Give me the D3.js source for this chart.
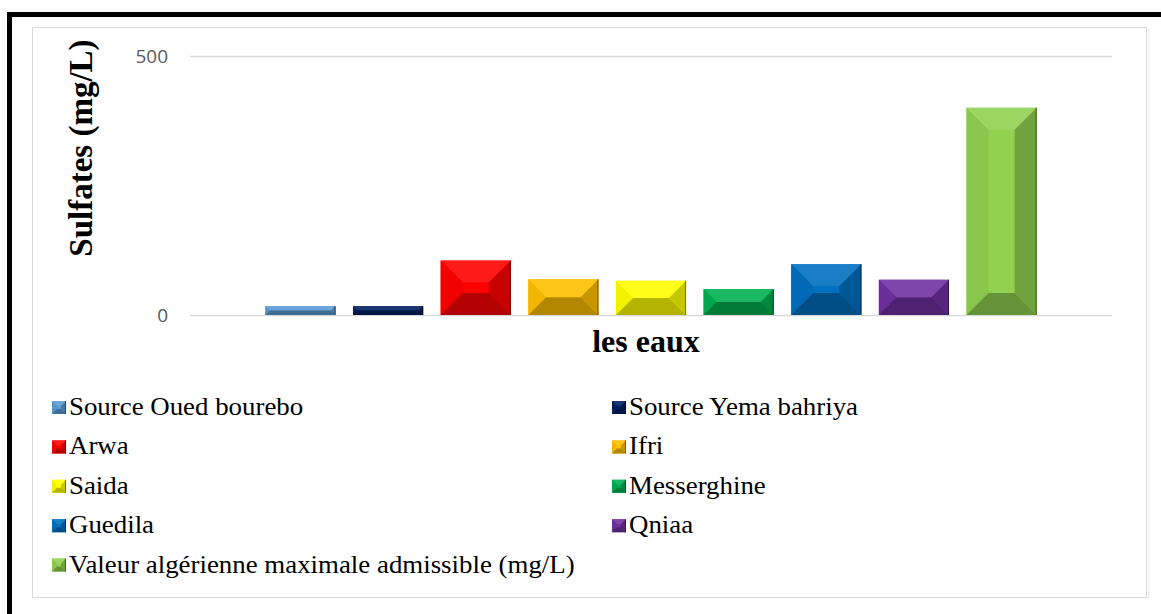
<!DOCTYPE html>
<html lang="fr">
<head>
    <meta charset="utf-8">
    <style>
        body { margin: 0; background: #fff; }
        svg { display: block; }
    </style>
</head>
<body>
    <svg width="1161" height="614"></svg>
    <script src="https://cdn.jsdelivr.net/npm/d3@7"></script>
    <script>
        // Data
        const series = ["Source Oued bourebo", "Source Yema bahriya", "Arwa", "Ifri", "Saida",
                        "Messerghine", "Guedila", "Qniaa", "Valeur algérienne maximale admissible (mg/L)"];
        const values = [17, 17, 105, 69, 66, 50, 98, 68, 400];
        const colors = ["#5B9BD5", "#002060", "#FF0000", "#FFC000", "#FFFF00",
                        "#00B050", "#0070C0", "#7030A0", "#92D050"];
        const yTicks = [0, 500];

        const svg = d3.select("svg");
        const serif = "'Liberation Serif', 'Times New Roman', serif";

        // Frame: thick black top/left, thin grey chart box
        svg.append("rect").attr("x", 7).attr("y", 12).attr("width", 1160).attr("height", 5).attr("fill", "#000");
        svg.append("rect").attr("x", 7).attr("y", 12).attr("width", 5).attr("height", 610).attr("fill", "#000");
        svg.append("rect").attr("x", 32.5).attr("y", 27.5).attr("width", 1114).attr("height", 570)
            .attr("fill", "#fff").attr("stroke", "#d9d9d9").attr("stroke-width", 1);
        svg.append("line").attr("x1", 1148.5).attr("x2", 1148.5).attr("y1", 29).attr("y2", 599)
            .attr("stroke", "#ececec").attr("stroke-width", 1);

        const plot = { left: 190, right: 1112, top: 56, bottom: 315 };

        const x = d3.scaleBand().domain(series).range([plot.left, plot.right])
            .paddingInner(0.2).paddingOuter(0.86);
        const y = d3.scaleLinear().domain([0, 500]).range([plot.bottom, plot.top]);

        /************************************************************
        * Axis / gridlines
        ************************************************************/
        const yAxis = svg.append("g")
            .attr("transform", `translate(${plot.left},0)`)
            .call(d3.axisLeft(y).tickValues(yTicks).tickSize(-(plot.right - plot.left)).tickPadding(22));
        yAxis.select(".domain").remove();
        yAxis.selectAll(".tick line").attr("stroke", "#d9d9d9").attr("stroke-width", 1.5);
        yAxis.selectAll(".tick text")
            .style("font-family", "'Open Sans', 'Noto Sans', sans-serif")
            .style("font-size", "19px").attr("fill", "#595959");

        /************************************************************
        * Bevelled bars
        ************************************************************/
        const mix = (c, t, k) => d3.interpolateRgb(c, t)(k);

        function bevel(g, bx, by, w, h, color, maxB) {
            const b = Math.min(maxB, h / 2, w / 2);
            const faces = [
                { pts: [[bx, by], [bx + w, by], [bx + w - b, by + b], [bx + b, by + b]], fill: mix(color, "#fff", 0.1) },
                { pts: [[bx, by], [bx + b, by + b], [bx + b, by + h - b], [bx, by + h]], fill: mix(color, "#000", 0.05) },
                { pts: [[bx + w, by], [bx + w, by + h], [bx + w - b, by + h - b], [bx + w - b, by + b]], fill: mix(color, "#000", 0.22) },
                { pts: [[bx, by + h], [bx + w, by + h], [bx + w - b, by + h - b], [bx + b, by + h - b]], fill: mix(color, "#000", 0.3) }
            ];
            g.append("rect").attr("x", bx).attr("y", by).attr("width", w).attr("height", h).attr("fill", color);
            g.selectAll(null).data(faces).enter()
                .append("polygon")
                .attr("points", d => d.pts.map(p => p.join(",")).join(" "))
                .attr("fill", d => d.fill);
            g.append("line").attr("x1", bx + w - 0.5).attr("x2", bx + w - 0.5).attr("y1", by).attr("y2", by + h)
                .attr("stroke", mix(color, "#000", 0.55)).attr("stroke-width", 1);
        }

        const bars = svg.append("g");
        series.forEach((s, i) => {
            const g = bars.append("g");
            bevel(g, x(s), y(values[i]), x.bandwidth(), y(0) - y(values[i]), colors[i], 22);
        });

        /************************************************************
        * Titles
        ************************************************************/
        svg.append("text")
            .attr("transform", `translate(92,148) rotate(-90)`)
            .attr("text-anchor", "middle")
            .style("font-family", serif)
            .style("font-weight", "bold").style("font-size", "33px")
            .text("Sulfates (mg/L)");

        svg.append("text")
            .attr("x", 646).attr("y", 352)
            .attr("text-anchor", "middle")
            .style("font-family", serif)
            .style("font-weight", "bold").style("font-size", "32px")
            .text("les eaux");

        /************************************************************
        * Legend (two columns, row-wise)
        ************************************************************/
        const legend = svg.append("g");
        series.forEach((s, i) => {
            const col = i % 2, row = Math.floor(i / 2);
            const lx = col === 0 ? 52 : 612;
            const ly = 415 + row * 39.4; // text baseline
            const g = legend.append("g");
            bevel(g, lx, ly - 14, 14, 13, colors[i], 5);
            g.append("text")
                .attr("transform", `translate(${lx + 17},${ly}) scale(1.075,1)`)
                .style("font-family", serif)
                .style("font-size", "25px").attr("fill", "#000")
                .text(s);
        });
    </script>
</body>
</html>
